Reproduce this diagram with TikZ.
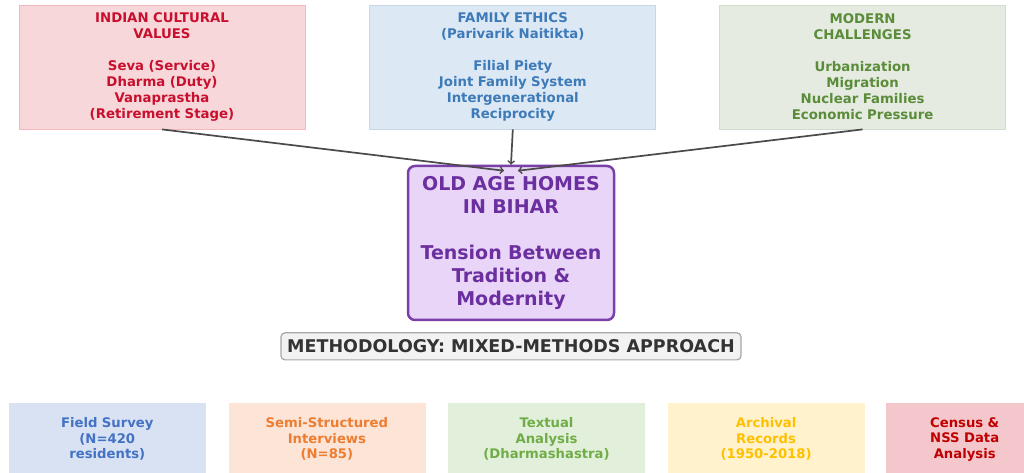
\documentclass[tikz,border=0pt]{standalone}
\usepackage{xcolor}
\usepackage{fontspec}
\setmainfont{DejaVu Sans}
\usepackage{tikz}
\usetikzlibrary{positioning}
\usetikzlibrary{arrows}

\definecolor{valfill}{HTML}{F8D7DA}
\definecolor{valline}{HTML}{EFB9BE}
\definecolor{valtext}{HTML}{C8102E}
\definecolor{ethfill}{HTML}{DDE8F5}
\definecolor{ethline}{HTML}{C6D7EA}
\definecolor{ethtext}{HTML}{3D7AB8}
\definecolor{chafill}{HTML}{E5EBE1}
\definecolor{chaline}{HTML}{D2DCCD}
\definecolor{chatext}{HTML}{5B8C3A}
\definecolor{homefill}{HTML}{E8D5F7}
\definecolor{homeline}{HTML}{7B3FA8}
\definecolor{hometext}{HTML}{6B2FA0}
\definecolor{methfill}{HTML}{F2F2F2}
\definecolor{methline}{HTML}{A6A6A6}
\definecolor{methtext}{HTML}{333333}
\definecolor{survfill}{HTML}{D9E2F3}
\definecolor{survtext}{HTML}{4472C4}
\definecolor{intfill}{HTML}{FCE4D6}
\definecolor{inttext}{HTML}{ED7D31}
\definecolor{txtfill}{HTML}{E2EFDA}
\definecolor{txttext}{HTML}{70AD47}
\definecolor{arcfill}{HTML}{FFF2CC}
\definecolor{arctext}{HTML}{FFC000}
\definecolor{cenfill}{HTML}{F4C7CC}
\definecolor{centext}{HTML}{C00000}
\definecolor{arrowgray}{HTML}{4A4A4A}

\tikzset{
  topbox/.style={draw, line width=0.8bp, minimum width=286bp, minimum height=124bp,
    text width=276bp, align=center, font=\fontsize{13.3bp}{16bp}\selectfont\bfseries},
  homebox/.style={draw=homeline, fill=homefill, text=hometext, line width=2.5bp,
    rounded corners=7bp, minimum width=206bp, minimum height=154bp, text width=196bp,
    align=center, font=\fontsize{19bp}{23bp}\selectfont\bfseries},
  methbox/.style={draw=methline, fill=methfill, text=methtext, line width=1.2bp,
    rounded corners=4bp, minimum width=460bp, minimum height=27bp, inner sep=0pt,
    font=\fontsize{17.5bp}{18bp}\selectfont\bfseries},
  botbox/.style={draw=white, line width=0.6bp, minimum width=198bp, minimum height=74bp,
    text width=188bp, align=center, anchor=north west,
    font=\fontsize{13.2bp}{15.5bp}\selectfont\bfseries},
  feed/.style={->, draw=arrowgray, line width=1.7bp}
}

\begin{document}
\begin{tikzpicture}[x=1bp,y=-1bp]
	\useasboundingbox (0,0) rectangle (1024,473);
	\node[topbox, fill=valfill, draw=valline, text=valtext] (values) at (162,67)
		{INDIAN CULTURAL\\VALUES\\[16bp]Seva (Service)\\Dharma (Duty)\\Vanaprastha\\(Retirement Stage)};
	\node[topbox, fill=ethfill, draw=ethline, text=ethtext] (ethics) [right = 64bp of values]
		{FAMILY ETHICS\\(Parivarik Naitikta)\\[16bp]Filial Piety\\Joint Family System\\Intergenerational\\Reciprocity};
	\node[topbox, fill=chafill, draw=chaline, text=chatext] (challenges) [right = 63bp of ethics]
		{MODERN\\CHALLENGES\\[16bp]Urbanization\\Migration\\Nuclear Families\\Economic Pressure};

	\node[homebox] (homes) at (511,243)
		{OLD AGE HOMES\\IN BIHAR\\[23bp]Tension Between\\Tradition \&\\Modernity};
	\node[methbox] (method) [below = 11bp of homes] {METHODOLOGY: MIXED-METHODS APPROACH};

	\node[botbox, fill=survfill, text=survtext] (survey) at (8,402) {Field Survey\\(N=420\\residents)};
	\node[botbox, fill=intfill, text=inttext] (interviews) [right = 21bp of survey.north east, anchor=north west] {Semi-Structured\\Interviews\\(N=85)};
	\node[botbox, fill=txtfill, text=txttext] (textual) [right = 21bp of interviews.north east, anchor=north west] {Textual\\Analysis\\(Dharmashastra)};
	\node[botbox, fill=arcfill, text=arctext] (archival) [right = 21bp of textual.north east, anchor=north west] {Archival\\Records\\(1950-2018)};
	\node[botbox, fill=cenfill, text=centext, minimum width=158bp, text width=148bp] (census) [right = 20bp of archival.north east, anchor=north west] {Census \&\\NSS Data\\Analysis};

	\draw[feed] (values.south) -- ([xshift=-7bp,yshift=-6bp]homes.north);
	\draw[feed] (ethics.south) -- (homes.north);
	\draw[feed] (challenges.south) -- ([xshift=7bp,yshift=-6bp]homes.north);
\end{tikzpicture}
\end{document}
